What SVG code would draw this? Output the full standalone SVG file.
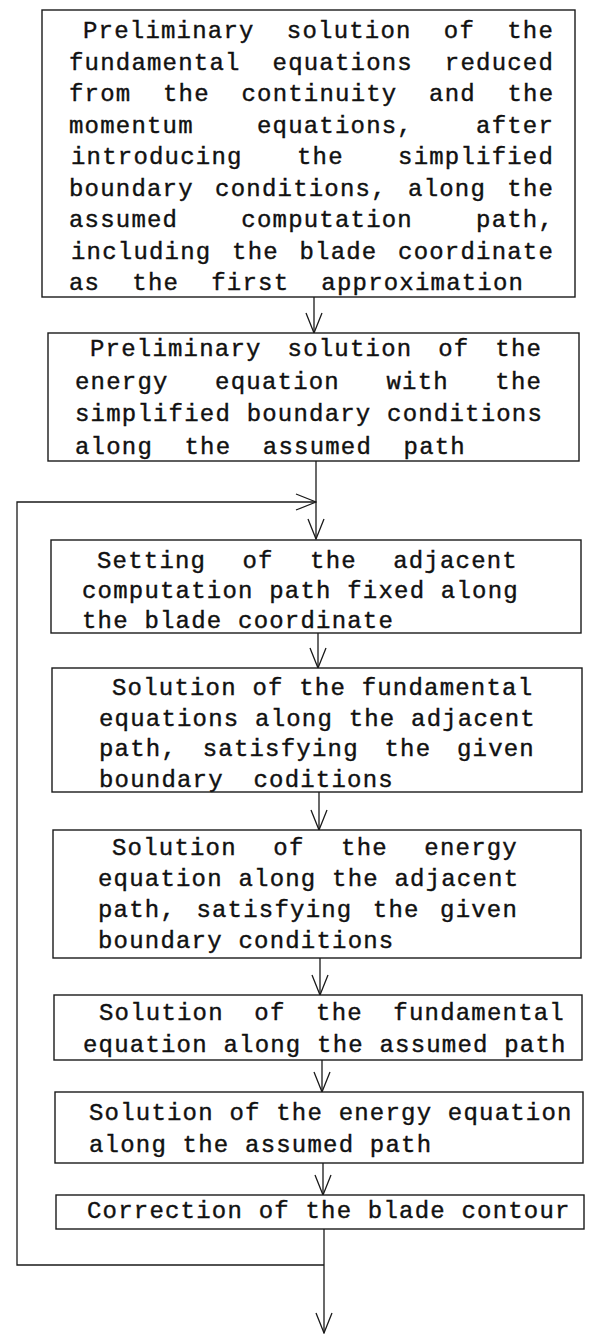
<svg xmlns="http://www.w3.org/2000/svg" width="592" height="1334" viewBox="0 0 592 1334">
<style>
.box{fill:#fff;stroke:#1a1a1a;stroke-width:1.4}
.t{font-family:"Liberation Mono","Courier New",monospace;font-size:24px;letter-spacing:1.2px;fill:#111;stroke:#111;stroke-width:0.4}
.c{fill:none;stroke:#1a1a1a;stroke-width:1.3}
</style>
<defs>
<marker id="ah" viewBox="0 0 22 18" refX="21" refY="9" markerWidth="22" markerHeight="18" orient="auto" markerUnits="userSpaceOnUse">
<path d="M1,1 L21,9 L1,17" fill="none" stroke="#1a1a1a" stroke-width="1.3"/>
</marker>
</defs>
<rect width="592" height="1334" fill="#fff"/>
<g id="connectors">
<path class="c" d="M314,297 V333" marker-end="url(#ah)"/>
<path class="c" d="M316,461 V539" marker-end="url(#ah)"/>
<path class="c" d="M318,633 V668" marker-end="url(#ah)"/>
<path class="c" d="M319,792 V830" marker-end="url(#ah)"/>
<path class="c" d="M320,958 V995" marker-end="url(#ah)"/>
<path class="c" d="M322,1060 V1092" marker-end="url(#ah)"/>
<path class="c" d="M323,1163 V1195" marker-end="url(#ah)"/>
<path class="c" d="M324,1229 V1333" marker-end="url(#ah)"/>
<path class="c" d="M324,1265 H17 V502 H316" marker-end="url(#ah)"/>
</g>
<g id="n1">
<rect class="box" x="42" y="10" width="533" height="287"/>
<text class="t" x="83" y="38" word-spacing="16.6">Preliminary solution of the</text>
<text class="t" x="69" y="69.5" word-spacing="16.3">fundamental equations reduced</text>
<text class="t" x="69" y="101" word-spacing="16">from the continuity and the</text>
<text class="t" x="69" y="132.5" word-spacing="47.5">momentum equations, after</text>
<text class="t" x="71" y="164" word-spacing="38.7">introducing the simplified</text>
<text class="t" x="69" y="195.5" word-spacing="5.7">boundary conditions, along the</text>
<text class="t" x="69" y="227" word-spacing="47.5">assumed computation path,</text>
<text class="t" x="71" y="258.5" word-spacing="5">including the blade coordinate</text>
<text class="t" x="69" y="290" word-spacing="16.5">as the first approximation</text>
</g>
<g id="n2">
<rect class="box" x="48" y="333" width="531" height="128"/>
<text class="t" x="90" y="356" word-spacing="10.3">Preliminary solution of the</text>
<text class="t" x="75" y="388.5" word-spacing="30.9">energy equation with the</text>
<text class="t" x="75" y="421">simplified boundary conditions</text>
<text class="t" x="75" y="453.5" word-spacing="15.9">along the assumed path</text>
</g>
<g id="n3">
<rect class="box" x="51" y="540" width="530" height="93"/>
<text class="t" x="97" y="568" word-spacing="20.7">Setting of the adjacent</text>
<text class="t" x="82" y="598">computation path fixed along</text>
<text class="t" x="82" y="628">the blade coordinate</text>
</g>
<g id="n4">
<rect class="box" x="52" y="668" width="530" height="124"/>
<text class="t" x="112" y="695">Solution of the fundamental</text>
<text class="t" x="99" y="725.5">equations along the adjacent</text>
<text class="t" x="99" y="756" word-spacing="10.1">path, satisfying the given</text>
<text class="t" x="99" y="787" word-spacing="14">boundary coditions</text>
</g>
<g id="n5">
<rect class="box" x="53" y="830" width="528" height="128"/>
<text class="t" x="112" y="855" word-spacing="20.9">Solution of the energy</text>
<text class="t" x="98" y="886">equation along the adjacent</text>
<text class="t" x="98" y="917" word-spacing="4.8">path, satisfying the given</text>
<text class="t" x="98" y="948">boundary conditions</text>
</g>
<g id="n6">
<rect class="box" x="54" y="995" width="528" height="65"/>
<text class="t" x="99" y="1020" word-spacing="14.9">Solution of the fundamental</text>
<text class="t" x="83" y="1052">equation along the assumed path</text>
</g>
<g id="n7">
<rect class="box" x="55" y="1092" width="528" height="71"/>
<text class="t" x="89" y="1120">Solution of the energy equation</text>
<text class="t" x="89" y="1152">along the assumed path</text>
</g>
<g id="n8">
<rect class="box" x="56" y="1195" width="528" height="34"/>
<text class="t" x="87" y="1218">Correction of the blade contour</text>
</g>
</svg>
